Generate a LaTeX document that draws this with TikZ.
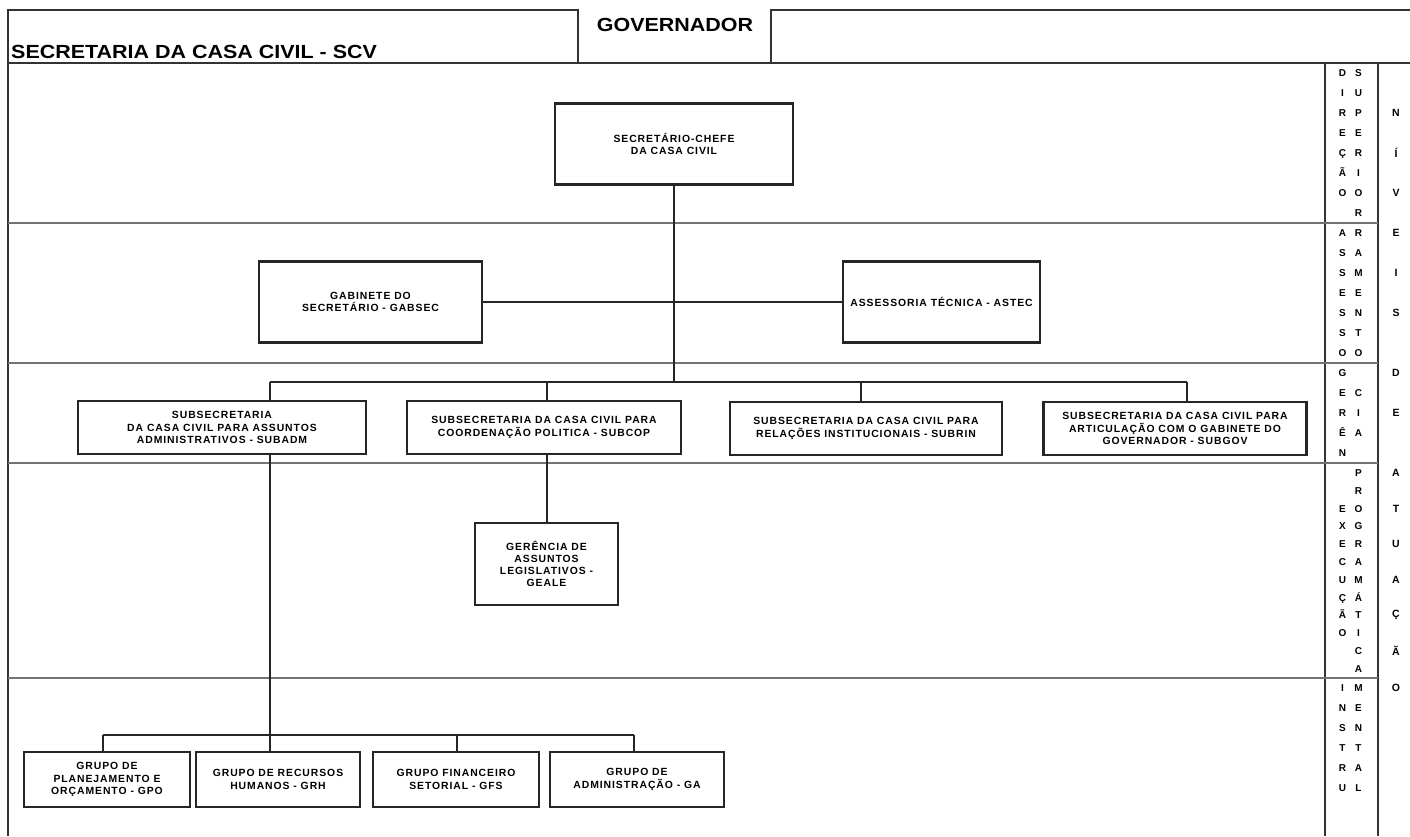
\documentclass[tikz,border=0pt]{standalone}
\usepackage{fontspec}
\setmainfont{Liberation Sans}
\newfontfamily\bxfont[LetterSpace=9]{Liberation Sans}
\newcommand\bxtxt{\bxfont\bfseries\fontsize{10.4}{12.6}\selectfont}
\newcommand\lr[2]{\makebox[16pt]{#1}\makebox[16pt]{#2}}
\begin{document}
\begin{tikzpicture}[x=1pt,y=-1pt,
  box/.style={draw=black!85, line width=2.2pt, fill=white, inner sep=2pt, align=center, font=\bxtxt},
  conn/.style={draw=black!85, line width=2pt},
  frame/.style={draw=black!80, line width=1.8pt},
  sepline/.style={draw=black!55, line width=1.1pt},
  colt/.style={inner sep=0pt, anchor=north, align=center, font=\bfseries\fontsize{10}{20}\selectfont},
  lvl/.style={inner sep=0pt, font=\bfseries\fontsize{10.5}{12}\selectfont},
  hdr/.style={inner sep=0pt, font=\bfseries\fontsize{19}{22}\selectfont}]
\useasboundingbox (0,0) rectangle (1410,836);
% frame
\draw[frame] (8,836) -- (8,10) -- (578,10) -- (578,63);
\draw[frame] (771,63) -- (771,10) -- (1410,10);
\draw[frame] (8,63) -- (1410,63);
\draw[frame] (1325,63) -- (1325,836);
\draw[frame] (1378,63) -- (1378,836);
\foreach \yy in {223,363,463,678} \draw[sepline] (8,\yy) -- (1378,\yy);
% header
\node[hdr, anchor=west] (scv) at (11,52) {\scalebox{1.13}[1]{SECRETARIA DA CASA CIVIL - SCV}};
\node[hdr] (gov) at (675,25) {\scalebox{1.13}[1]{GOVERNADOR}};
% boxes
\node[box, minimum width=238pt, minimum height=81pt] (sec) at (674,144) {SECRETÁRIO-CHEFE\\DA CASA CIVIL};
\node[box, minimum width=223pt, minimum height=81pt] (gabsec) at (370.5,302) {GABINETE DO\\SECRETÁRIO - GABSEC};
\node[box, minimum width=197pt, minimum height=81pt] (astec) at (941.5,302) {ASSESSORIA TÉCNICA - ASTEC};
\node[box, minimum width=288pt, minimum height=53pt] (subadm) at (222,427.5) {SUBSECRETARIA\\DA CASA CIVIL PARA ASSUNTOS\\ADMINISTRATIVOS - SUBADM};
\node[box, minimum width=274pt, minimum height=53pt] (subcop) at (544,427.5) {SUBSECRETARIA DA CASA CIVIL PARA\\COORDENAÇÃO POLITICA - SUBCOP};
\node[box, minimum width=272pt, minimum height=53pt] (subrin) at (866,428.5) {SUBSECRETARIA DA CASA CIVIL PARA\\RELAÇÕES INSTITUCIONAIS - SUBRIN};
\node[box, minimum width=263pt, minimum height=53pt] (subgov) at (1175,428.5) {SUBSECRETARIA DA CASA CIVIL PARA\\ARTICULAÇÃO COM O GABINETE DO\\GOVERNADOR - SUBGOV};
\node[box, minimum width=143pt, minimum height=82pt, font=\bxfont\bfseries\fontsize{10.4}{12.2}\selectfont] (geale) at (546.5,564) {GERÊNCIA DE\\ASSUNTOS\\LEGISLATIVOS -\\GEALE};
\node[box, minimum width=166pt, minimum height=55pt] (gpo) at (107,779.5) {GRUPO DE\\PLANEJAMENTO E\\ORÇAMENTO - GPO};
\node[box, minimum width=164pt, minimum height=55pt] (grh) at (278,779.5) {GRUPO DE RECURSOS\\HUMANOS - GRH};
\node[box, minimum width=166pt, minimum height=55pt] (gfs) at (456,779.5) {GRUPO FINANCEIRO\\SETORIAL - GFS};
\node[box, minimum width=174pt, minimum height=55pt] (ga) at (637,779.5) {GRUPO DE\\ADMINISTRAÇÃO - GA};
% connector junctions
\coordinate (busL) at (270,382);
\coordinate (bus2) at (547,382);
\coordinate (bus3) at (861,382);
\coordinate (busR) at (1187,382);
\coordinate (gL) at (103,735);
\coordinate (g3) at (457,735);
\coordinate (gR) at (634,735);
% connectors
\draw[conn] (sec.south) -- (sec.south |- busL);
\draw[conn] (gabsec.east) -- (astec.west);
\draw[conn] (busL) -- (busR);
\draw[conn] (busL) -- (busL |- subadm.north);
\draw[conn] (bus2) -- (bus2 |- subcop.north);
\draw[conn] (bus3) -- (bus3 |- subrin.north);
\draw[conn] (busR) -- (busR |- subgov.north);
\draw[conn] (bus2 |- subcop.south) -- (bus2 |- geale.north);
\draw[conn] (busL |- subadm.south) -- (busL |- gL);
\draw[conn] (gL) -- (gR);
\draw[conn] (gL) -- (gL |- gpo.north);
\draw[conn] (busL |- gL) -- (busL |- grh.north);
\draw[conn] (g3) -- (g3 |- gfs.north);
\draw[conn] (gR) -- (gR |- ga.north);
% level columns
\node[colt] (r1) at (1350.5,69.4) {\lr{D}{S}\\\lr{I}{U}\\\lr{R}{P}\\\lr{E}{E}\\\lr{Ç}{R}\\\lr{Ã}{I}\\\lr{O}{O}\\\lr{}{R}};
\node[colt] (r2) at (1350.5,229.4) {\lr{A}{R}\\\lr{S}{A}\\\lr{S}{M}\\\lr{E}{E}\\\lr{S}{N}\\\lr{S}{T}\\\lr{O}{O}};
\node[colt] (r3) at (1350.5,369.4) {\lr{G}{}\\\lr{E}{C}\\\lr{R}{I}\\\lr{Ê}{A}\\\lr{N}{}};
\node[colt, font=\bfseries\fontsize{10}{17.8}\selectfont] (r4) at (1350.5,469.4) {\lr{}{P}\\\lr{}{R}\\\lr{E}{O}\\\lr{X}{G}\\\lr{E}{R}\\\lr{C}{A}\\\lr{U}{M}\\\lr{Ç}{Á}\\\lr{Ã}{T}\\\lr{O}{I}\\\lr{}{C}\\\lr{}{A}};
\node[colt] (r5) at (1350.5,684.4) {\lr{I}{M}\\\lr{N}{E}\\\lr{S}{N}\\\lr{T}{T}\\\lr{R}{A}\\\lr{U}{L}};
\foreach \ch/\yy [count=\i] in {N/113,Í/153,V/193,E/233,I/273,S/313,D/373,E/413,A/473,T/509,U/544,A/580,Ç/615,Ã/651,O/688}
  \node[lvl] (lv\i) at (1396,\yy) {\ch};
\end{tikzpicture}
\end{document}
